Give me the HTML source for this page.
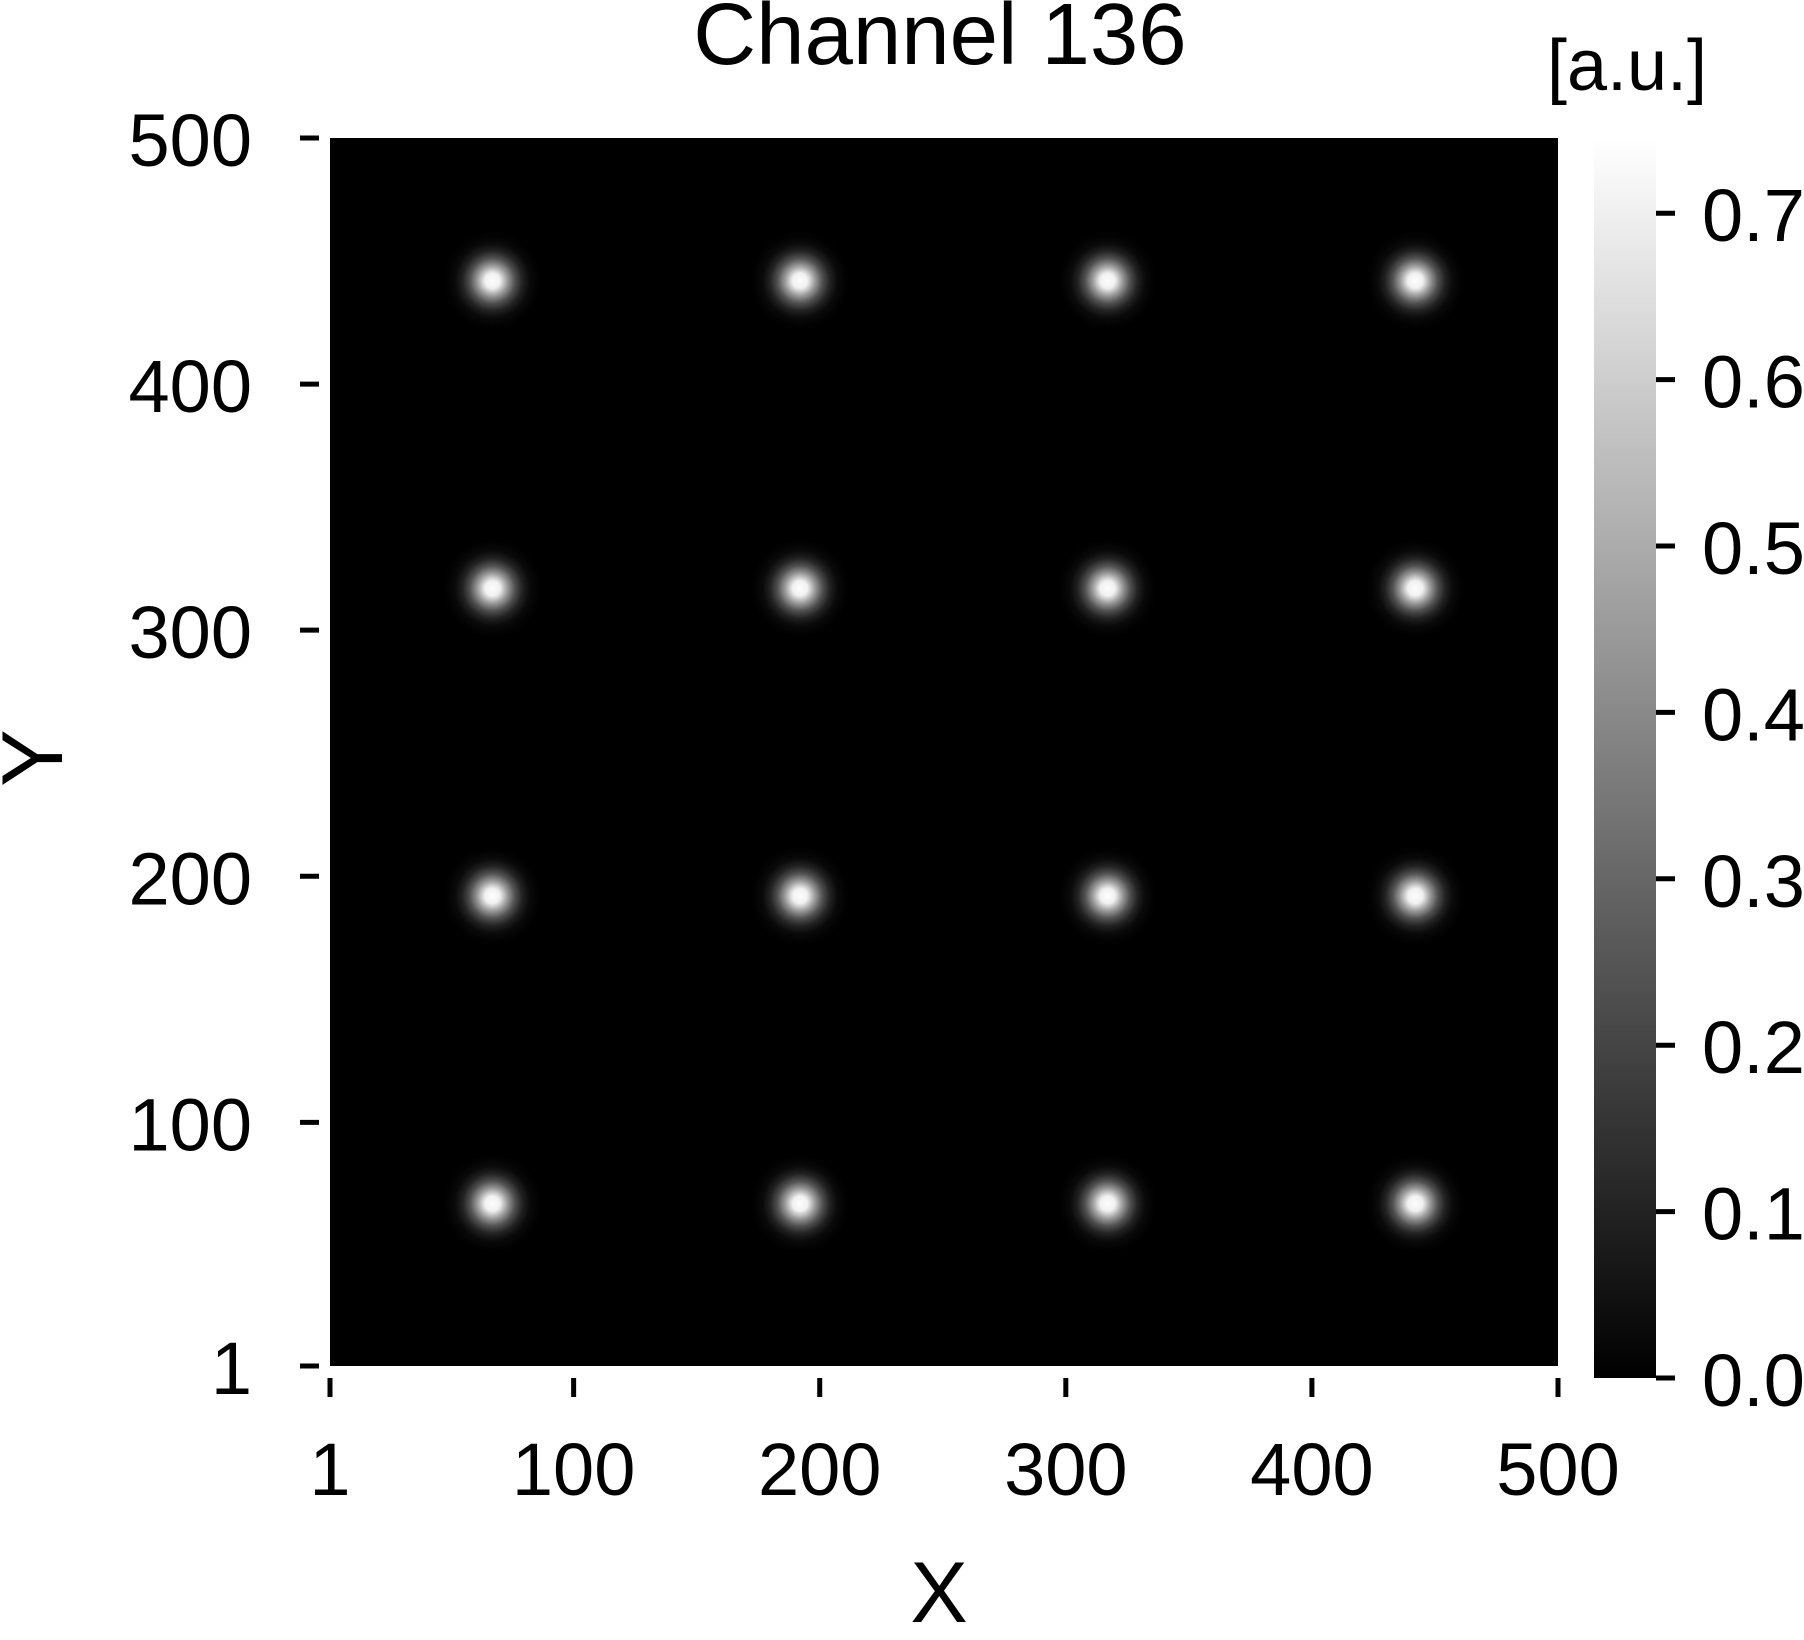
<!DOCTYPE html>
<html><head><meta charset="utf-8">
<style>
html,body{margin:0;padding:0;background:#fff;}
svg{display:block;font-family:"Liberation Sans",sans-serif;}
</style></head>
<body>
<svg id="chart" width="1804" height="1640" viewBox="0 0 1804 1640" xmlns="http://www.w3.org/2000/svg">
<defs>
<radialGradient id="spot" cx="0.5" cy="0.5" r="0.5">
<stop offset="0" stop-color="#fff" stop-opacity="1"/>
<stop offset="0.15" stop-color="#fff" stop-opacity="0.95"/>
<stop offset="0.3" stop-color="#fff" stop-opacity="0.61"/>
<stop offset="0.45" stop-color="#fff" stop-opacity="0.32"/>
<stop offset="0.6" stop-color="#fff" stop-opacity="0.135"/>
<stop offset="0.75" stop-color="#fff" stop-opacity="0.04"/>
<stop offset="0.9" stop-color="#fff" stop-opacity="0.01"/>
<stop offset="1" stop-color="#fff" stop-opacity="0"/>
</radialGradient>
<linearGradient id="cbar" x1="0" y1="1" x2="0" y2="0">
<stop offset="0" stop-color="#000"/>
<stop offset="1" stop-color="#fff"/>
</linearGradient>
</defs>
<text x="940" y="64" font-size="87" text-anchor="middle">Channel 136</text>
<text x="1627" y="90" font-size="72" text-anchor="middle">[a.u.]</text>
<rect x="330" y="138" width="1228" height="1228" fill="#000"/>
<g id="spots"></g>
<g id="axes"></g>
<rect x="1594" y="140" width="62" height="1238" fill="url(#cbar)"/>
<g id="cbticks"></g>
<text x="939" y="1622" font-size="86" text-anchor="middle">X</text>
<text x="0" y="0" font-size="86" text-anchor="middle" transform="translate(62,758) rotate(-90)">Y</text>
</svg>
<script>
const spotX = [67, 192, 317, 442];
const spotY = [67, 192, 317, 442];
const spotValue = [0.74];
const xTicks = [1, 100, 200, 300, 400, 500];
const yTicks = [1, 100, 200, 300, 400, 500];
const cbTicks = [0.0, 0.1, 0.2, 0.3, 0.4, 0.5, 0.6, 0.7];
const cbMax = 0.744;

const NS = "http://www.w3.org/2000/svg";
const px0 = 330, px1 = 1558, py0 = 1366, py1 = 138;
function xs(v){ return px0 + (v - 1) / 499 * (px1 - px0); }
function ys(v){ return py0 - (v - 1) / 499 * (py0 - py1); }
function cs(v){ return 1378 - v / cbMax * (1378 - 140); }
function mk(tag, attrs, parent){
  const e = document.createElementNS(NS, tag);
  for (const k in attrs) e.setAttribute(k, attrs[k]);
  parent.appendChild(e); return e;
}
const spots = document.getElementById('spots');
spotY.forEach((vy, i) => spotX.forEach((vx, j) => {
  const r = 50;
  const c = mk('circle', {cx: xs(vx), cy: ys(vy), r: r, fill: 'url(#spot)', opacity: Math.min(1, spotValue[0] / cbMax)}, spots);
  
  
}));
const axes = document.getElementById('axes');
xTicks.forEach(v => {
  const l = mk('line', {x1: xs(v), x2: xs(v), y1: 1378, y2: 1397, stroke: '#000', 'stroke-width': 5}, axes);
  
  
  const t = mk('text', {x: xs(v), y: 1495, 'font-size': 74, 'text-anchor': 'middle'}, axes);
  t.textContent = v;
  
  
});
yTicks.forEach(v => {
  const y = ys(v);
  const l = mk('line', {x1: 300, x2: 319, y1: y, y2: y, stroke: '#000', 'stroke-width': 5}, axes);
  
  
  const t = mk('text', {x: 252, y: y + 28, 'font-size': 74, 'text-anchor': 'end'}, axes);
  t.textContent = v;
  
  
});
const cbt = document.getElementById('cbticks');
cbTicks.forEach(v => {
  const y = cs(v);
  const l = mk('line', {x1: 1656, x2: 1675, y1: y, y2: y, stroke: '#000', 'stroke-width': 5}, cbt);
  
  
  const t = mk('text', {x: 1702, y: y + 28, 'font-size': 74}, cbt);
  t.textContent = v.toFixed(1);
  
  
});
</script>
</body></html>
